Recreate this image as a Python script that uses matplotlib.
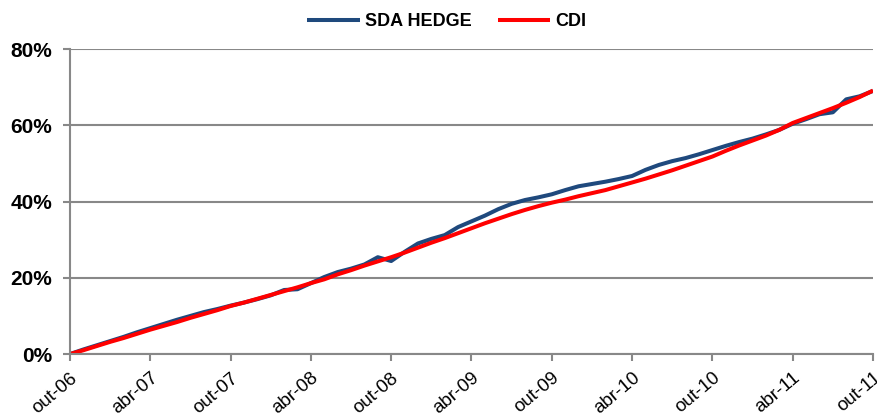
import matplotlib
matplotlib.use("Agg")
import matplotlib.pyplot as plt
import numpy as np

plt.rcParams['font.family'] = ['Liberation Sans', 'DejaVu Sans']

# one value per month, out-06 .. out-11 (accumulated return, %)
sda_hedge = [0.0, 1.2, 2.3, 3.4, 4.5, 5.7, 6.8, 7.9, 9.0, 10.0,
             11.0, 11.8, 12.7, 13.5, 14.4, 15.4, 16.8, 17.0, 18.6, 20.2,
             21.5, 22.4, 23.5, 25.4, 24.4, 26.8, 29.0, 30.2, 31.2, 33.3,
             34.8, 36.3, 38.0, 39.4, 40.4, 41.1, 41.9, 43.0, 44.0, 44.6,
             45.2, 45.9, 46.7, 48.3, 49.6, 50.6, 51.4, 52.4, 53.5, 54.6,
             55.6, 56.5, 57.6, 58.8, 60.4, 61.6, 62.9, 63.4, 66.8, 67.6,
             69.0]
cdi = [0.0, 1.0, 2.1, 3.2, 4.2, 5.3, 6.4, 7.4, 8.4, 9.5,
       10.5, 11.5, 12.6, 13.5, 14.5, 15.5, 16.5, 17.5, 18.6, 19.6,
       20.9, 22.0, 23.2, 24.3, 25.4, 26.6, 27.9, 29.2, 30.4, 31.7,
       33.0, 34.3, 35.5, 36.7, 37.8, 38.8, 39.7, 40.5, 41.4, 42.2,
       43.0, 44.0, 45.0, 46.0, 47.1, 48.2, 49.4, 50.6, 51.8, 53.3,
       54.7, 56.0, 57.3, 58.8, 60.6, 61.9, 63.2, 64.5, 65.9, 67.4,
       69.1]
tick_labels = ['out-06', 'abr-07', 'out-07', 'abr-08', 'out-08', 'abr-09',
               'out-09', 'abr-10', 'out-10', 'abr-11', 'out-11']

months = np.arange(len(cdi))

fig = plt.figure(figsize=(8.78, 4.2), dpi=100)
ax = fig.add_axes([0.0797, 0.157, 0.9146, 0.7263])

l1, = ax.plot(months, sda_hedge, color='#1F497D', lw=2.9, label='SDA HEDGE',
              solid_capstyle='butt')
l2, = ax.plot(months, cdi, color='#FF0000', lw=2.9, label='CDI',
              solid_capstyle='butt')

ax.set_xlim(0, 60)
ax.set_ylim(0, 80)
ax.set_yticks([0, 20, 40, 60, 80])
ax.set_yticklabels(['0%', '20%', '40%', '60%', '80%'], fontsize=15,
                   fontweight='bold')
ax.set_xticks(np.arange(0, 61, 6))
ax.set_xticklabels(tick_labels, fontsize=13.5, rotation=40, ha='right',
                   rotation_mode='anchor')

ax.yaxis.grid(True, color='#888888', lw=1.5)
ax.set_axisbelow(True)
for s in ['top', 'right']:
    ax.spines[s].set_visible(False)
for s in ['left', 'bottom']:
    ax.spines[s].set_color('#888888')
    ax.spines[s].set_linewidth(1.5)
ax.tick_params(axis='both', colors='#888888', width=1.5, length=5,
               labelcolor='black')
ax.tick_params(axis='y', pad=8)
ax.tick_params(axis='x', pad=6)

fig.legend(handles=[l1, l2], loc='center', bbox_to_anchor=(447 / 878, 1 - 22 / 420),
           ncol=2, frameon=False, handlelength=2.9, columnspacing=1.45,
           handletextpad=0.3, prop={'weight': 'bold', 'size': 13})

fig.savefig('out.png', dpi=100)
